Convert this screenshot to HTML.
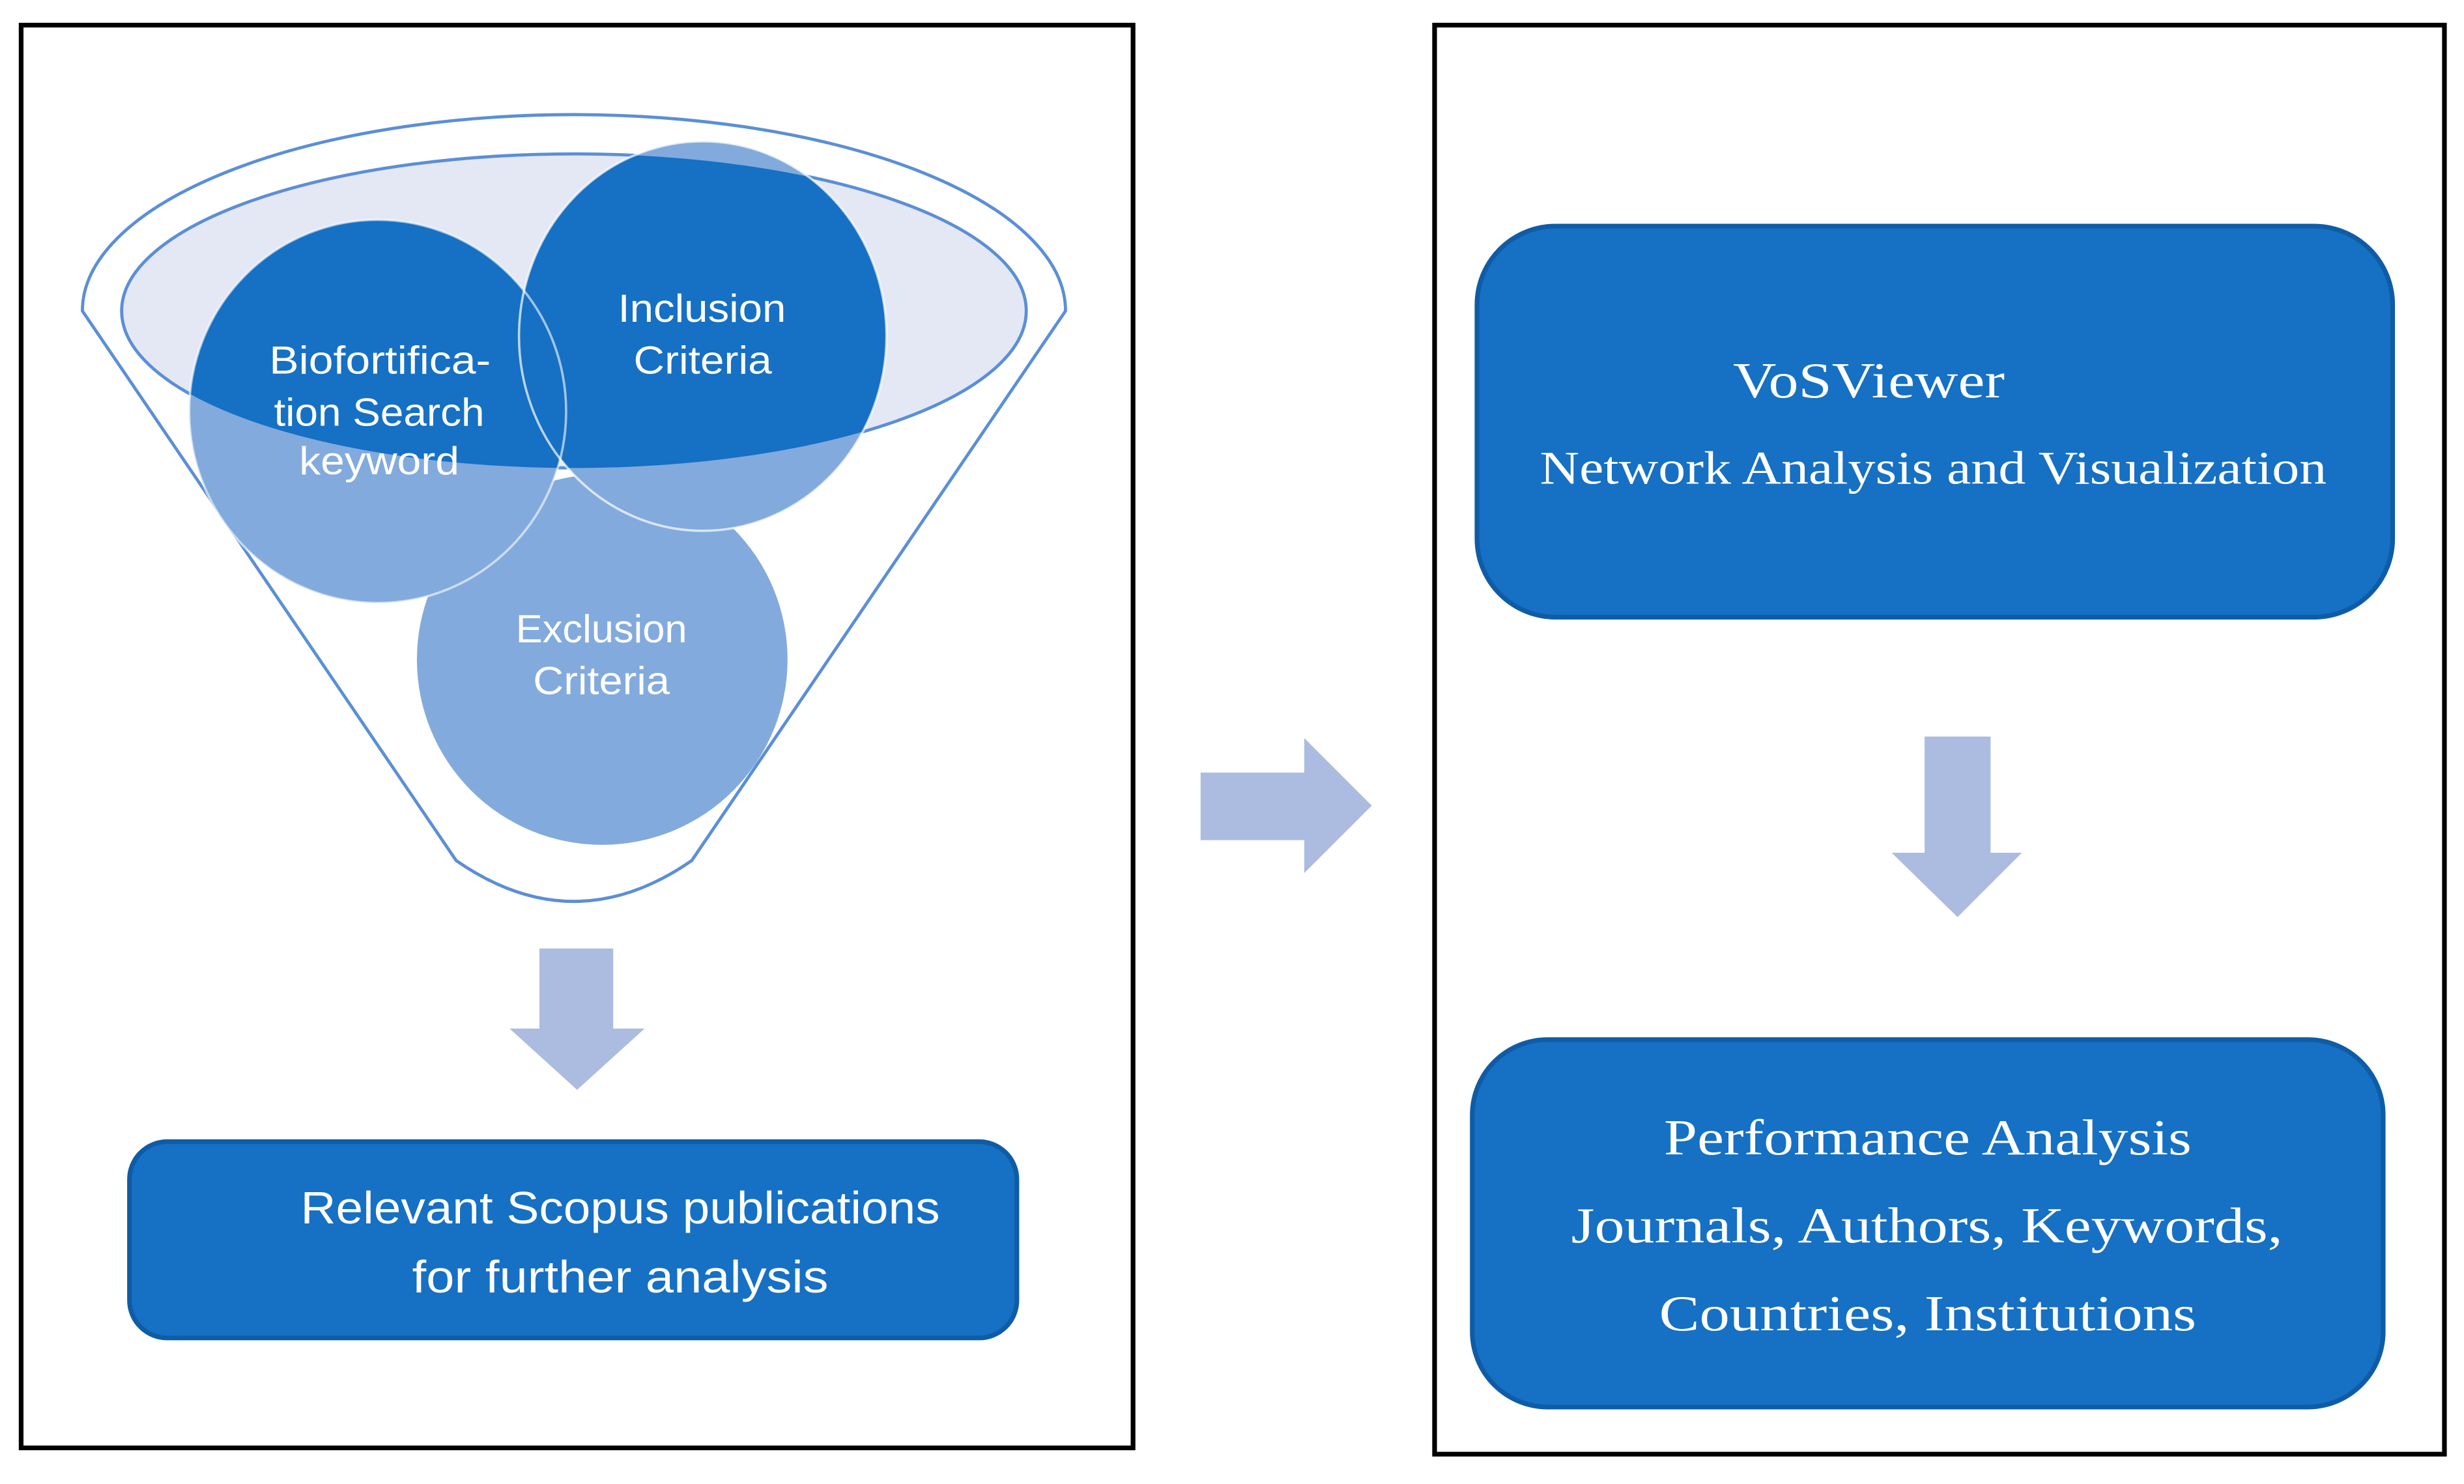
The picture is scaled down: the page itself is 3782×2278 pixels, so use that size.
<!DOCTYPE html>
<html><head><meta charset="utf-8"><style>
html,body{margin:0;padding:0;background:#fff;width:3782px;height:2278px;overflow:hidden}
svg{display:block}
.s{font-family:"Liberation Sans",sans-serif;fill:#fff;font-size:25px}
.r{font-family:"Liberation Serif",serif;fill:#fff;font-size:32px}
</style></head><body>
<svg width="3782" height="2278" viewBox="0 0 1568 945" xmlns="http://www.w3.org/2000/svg">
<defs>
<clipPath id="ie"><ellipse cx="365" cy="198" rx="288" ry="100"/></clipPath>
</defs>
<rect x="0" y="0" width="1568" height="945" fill="#fff"/>
<rect x="13" y="16" width="708" height="906" fill="none" stroke="#000" stroke-width="3"/>
<rect x="913" y="16" width="643" height="910" fill="none" stroke="#000" stroke-width="3"/>
<path d="M52,198 A313,125 0 0 1 678,198 L440,548 Q365,600 290,548 Z" fill="#fff" stroke="#5b8fd6" stroke-width="2"/>
<ellipse cx="365" cy="198" rx="288" ry="100" fill="#e4e8f4" stroke="#5b8fd6" stroke-width="2"/>
<ellipse cx="383" cy="420" rx="118" ry="118" fill="#83aadd"/>
<ellipse cx="240" cy="262" rx="120" ry="122" fill="#83aadd"/>
<ellipse cx="447" cy="214" rx="117" ry="124" fill="#83aadd"/>
<g clip-path="url(#ie)">
<ellipse cx="240" cy="262" rx="120" ry="122" fill="#1670c4"/>
<ellipse cx="447" cy="214" rx="117" ry="124" fill="#1670c4"/>
</g>
<ellipse cx="240" cy="262" rx="120" ry="122" fill="none" stroke="#fff" stroke-width="1.5" opacity="0.6"/>
<ellipse cx="447" cy="214" rx="117" ry="124" fill="none" stroke="#fff" stroke-width="1.5" opacity="0.7"/>
<text class="s" x="171" y="238" textLength="141" lengthAdjust="spacingAndGlyphs">Biofortifica-</text>
<text class="s" x="174" y="271" textLength="134" lengthAdjust="spacingAndGlyphs">tion Search</text>
<text class="s" x="190" y="302" textLength="102" lengthAdjust="spacingAndGlyphs">keyword</text>
<text class="s" x="393" y="205" textLength="107" lengthAdjust="spacingAndGlyphs">Inclusion</text>
<text class="s" x="403" y="238" textLength="88" lengthAdjust="spacingAndGlyphs">Criteria</text>
<text class="s" x="328" y="409" textLength="109" lengthAdjust="spacingAndGlyphs">Exclusion</text>
<text class="s" x="339" y="442" textLength="87" lengthAdjust="spacingAndGlyphs">Criteria</text>
<path d="M343,604 H390 V655 H410 L367,694 L324,655 H343 Z" fill="#abbce0"/>
<rect x="82" y="727" width="565" height="125" rx="24" fill="#1670c4" stroke="#0f5ca6" stroke-width="3"/>
<text class="s" style="font-size:29px" x="191" y="779" textLength="407" lengthAdjust="spacingAndGlyphs">Relevant Scopus publications</text>
<text class="s" style="font-size:29px" x="262" y="823" textLength="265" lengthAdjust="spacingAndGlyphs">for further analysis</text>
<path d="M764,492 H830 V470 L873,513 L830,556 V535 H764 Z" fill="#abbce0"/>
<rect x="940" y="144" width="583" height="249" rx="50" fill="#1670c4" stroke="#0f5ca6" stroke-width="3"/>
<text class="r" x="1103" y="253" textLength="173" lengthAdjust="spacingAndGlyphs">VoSViewer</text>
<text class="r" style="font-size:30px" x="980" y="308" textLength="501" lengthAdjust="spacingAndGlyphs">Network Analysis and Visualization</text>
<path d="M1225,469 H1267 V543 H1287 L1246,584 L1204,543 H1225 Z" fill="#abbce0"/>
<rect x="937" y="662" width="580" height="234" rx="48" fill="#1670c4" stroke="#0f5ca6" stroke-width="3"/>
<text class="r" x="1059" y="735" textLength="336" lengthAdjust="spacingAndGlyphs">Performance Analysis</text>
<text class="r" x="1000" y="791" textLength="453" lengthAdjust="spacingAndGlyphs">Journals, Authors, Keywords,</text>
<text class="r" x="1056" y="847" textLength="342" lengthAdjust="spacingAndGlyphs">Countries, Institutions</text>
</svg>
</body></html>
